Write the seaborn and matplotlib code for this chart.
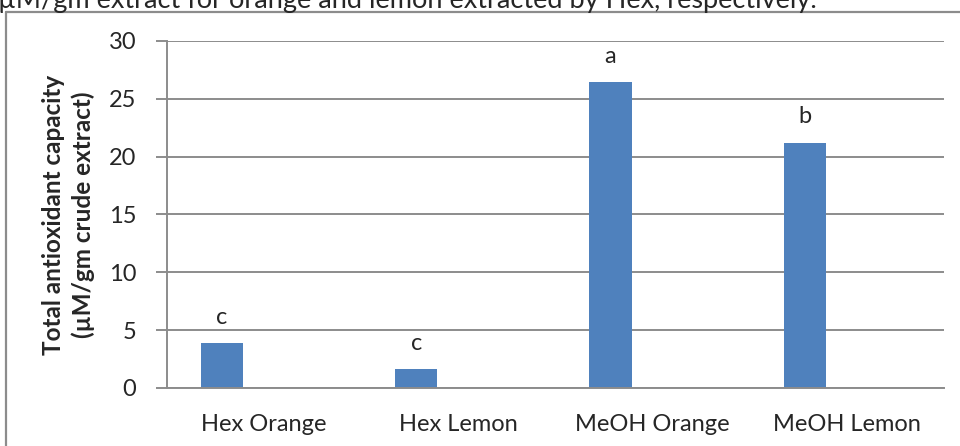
import matplotlib
matplotlib.use("Agg")
import matplotlib.pyplot as plt
from matplotlib.lines import Line2D
import seaborn as sns
import pandas as pd
import numpy as np

categories = ["Hex Orange", "Hex Lemon", "MeOH Orange", "MeOH Lemon"]
values = [3.86, 1.6, 26.45, 21.2]
letters = ["c", "c", "a", "b"]
y_ticks = [0, 5, 10, 15, 20, 25, 30]
ylabel = "Total antioxidant capacity\n(µM/gm crude extract)"
caption = "µM/gm extract for orange and lemon extracted by Hex, respectively."

sns.set_theme(style="white")
plt.rcParams['font.family'] = ['Lato', 'DejaVu Sans']

W, H = 960, 446
fig = plt.figure(figsize=(W / 100, H / 100), dpi=100)
ax = fig.add_axes([167 / W, 1 - 388 / H, (944 - 167) / W, (388 - 41) / H])

df = pd.DataFrame({"cat": categories, "val": values, "series": ["S1"] * len(categories)})
sns.barplot(data=df, x="cat", y="val", hue="series", hue_order=["S1", "S2", "S3"],
            palette=["#4F81BD", "#C0504D", "#9BBB59"], width=0.65, dodge=True,
            errorbar=None, legend=False, ax=ax, edgecolor="#4F81BD", linewidth=0,
            saturation=1)

ax.set_xlim(-0.5, len(categories) - 0.5)
ax.set_ylim(0, 30)
ax.set_yticks(y_ticks)
ax.set_yticklabels([str(t) for t in y_ticks], fontsize=17)
ax.yaxis.grid(True, color="#8c8c8c", linewidth=1.4)
ax.set_axisbelow(True)

# category labels at centers, boundary ticks as minor
ax.set_xticks(np.arange(len(categories)))
ax.set_xticklabels(categories, fontsize=17)
ax.set_xticks(np.arange(len(categories) + 1) - 0.5, minor=True)
ax.tick_params(axis="x", which="major", length=0, pad=19)
ax.tick_params(axis="x", which="minor", length=8, width=1.4, color="#8c8c8c", direction="out")
ax.tick_params(axis="y", which="major", length=8, width=1.4, color="#8c8c8c",
               direction="out", pad=14, left=True)
ax.set_xlabel("")
ax.set_ylabel(ylabel, fontsize=17.5, fontweight="bold", labelpad=10, linespacing=1.3)

for s in ["top", "right"]:
    ax.spines[s].set_visible(False)
for s in ["left", "bottom"]:
    ax.spines[s].set_color("#8c8c8c")
    ax.spines[s].set_linewidth(1.4)

# letters above the bars
for bar, lab in zip([p for p in ax.patches if p.get_height() > 0][:len(letters)], letters):
    ax.annotate(lab, (bar.get_x() + bar.get_width() / 2, bar.get_height()),
                xytext=(0, 14), textcoords="offset points", ha="center", va="baseline",
                fontsize=17)

# frame of the embedded chart and cut-off caption above
fig.add_artist(Line2D([6 / W, 6 / W], [0, 1 - 11.5 / H], transform=fig.transFigure,
                      color="#8c8c8c", linewidth=1.6))
fig.add_artist(Line2D([6 / W, 1], [1 - 11.5 / H, 1 - 11.5 / H], transform=fig.transFigure,
                      color="#8c8c8c", linewidth=1.6))
fig.text(-2 / W, 1 - 8 / H, caption, fontsize=19.5, ha="left", va="baseline")

fig.savefig("out.png", dpi=100)
